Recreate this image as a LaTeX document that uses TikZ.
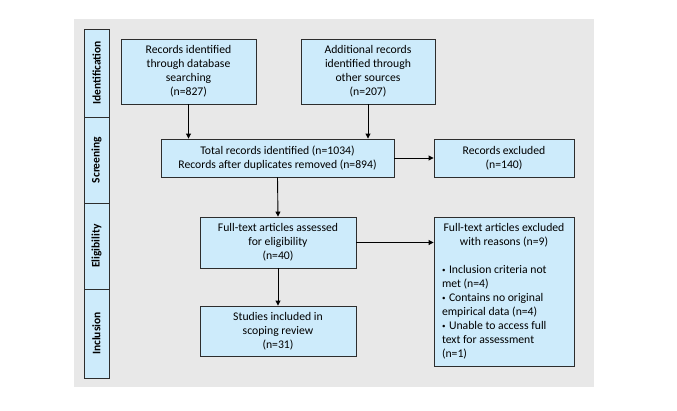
\documentclass[tikz,border=0pt]{standalone}
\usepackage{fontspec}
\setmainfont{Carlito}
\usetikzlibrary{arrows.meta}
\definecolor{bgray}{RGB}{232,232,232}
\definecolor{lblue}{RGB}{205,235,251}
\definecolor{edge}{RGB}{45,45,45}
\newcommand{\mybul}{\makebox[7pt][l]{\raisebox{1.6pt}{\fontsize{7}{7}\selectfont\textbullet}}}
\tikzset{
  box/.style={draw=edge, fill=lblue, line width=0.9pt, inner sep=0pt, align=center,
    font=\fontsize{11.7}{14}\selectfont},
  side/.style={draw=edge, fill=lblue, line width=0.9pt, inner sep=0pt, rotate=90,
    minimum height=25, font=\fontsize{11.5}{14}\selectfont\bfseries},
  arr/.style={line width=0.9pt, -{Triangle[length=5pt,width=5pt]}}
}
\begin{document}
\begin{tikzpicture}[x=1pt,y=-1pt]
\useasboundingbox (0,0) rectangle (677,410);
\fill[bgray] (74,19) rectangle (594,387);
% side bar
\node[side, minimum width=88] (sid) at (96.5,73) {Identification};
\node[side, minimum width=86] (ssc) at (96.5,160) {Screening};
\node[side, minimum width=86] (sel) at (96.5,246) {Eligibility};
\node[side, minimum width=89] (sin) at (96.5,333.5) {Inclusion};
% boxes
\node[box, minimum width=135, minimum height=65] (db) at (188.5,71.5)
  {Records identified\\through database\\searching\\(n=827)};
\node[box, minimum width=134, minimum height=65] (oth) at (368,71.5)
  {Additional records\\identified through\\other sources\\(n=207)};
\node[box, minimum width=233, minimum height=38] (tot) at (277.5,158)
  {Total records identified (n=1034)\\Records after duplicates removed (n=894)};
\node[box, minimum width=140, minimum height=38] (exc) at (504,158)
  {Records excluded\\(n=140)};
\node[box, minimum width=156, minimum height=51] (elig) at (278,242.5)
  {Full-text articles assessed\\for eligibility\\(n=40)};
\node[box, minimum width=156, minimum height=50] (inc) at (278,331)
  {Studies included in\\scoping review\\(n=31)};
\node[box, minimum width=140, minimum height=149, align=left] (ftx) at (504,291.5)
  {\begin{minipage}{124pt}\fontsize{11.7}{14}\selectfont
   \centering Full-text articles excluded\\with reasons (n=9)\par
   \vspace{14pt}\raggedright
   \hangindent=7pt\hangafter=1\mybul Inclusion criteria not\\met (n=4)\par
   \hangindent=7pt\hangafter=1\mybul Contains no original\\empirical data (n=4)\par
   \hangindent=7pt\hangafter=1\mybul Unable to access full\\text for assessment\\(n=1)\par
   \end{minipage}};
% arrows
\draw[arr] (db.south) -- (db.south |- tot.north);
\draw[arr] (oth.south) -- (oth.south |- tot.north);
\draw[arr] (tot.east) -- (exc.west);
\draw[arr] (tot.south) -- (elig.north);
\draw[arr] (elig.east) -- (elig.east -| ftx.west);
\draw[arr] (elig.south) -- (inc.north);
\end{tikzpicture}
\end{document}
